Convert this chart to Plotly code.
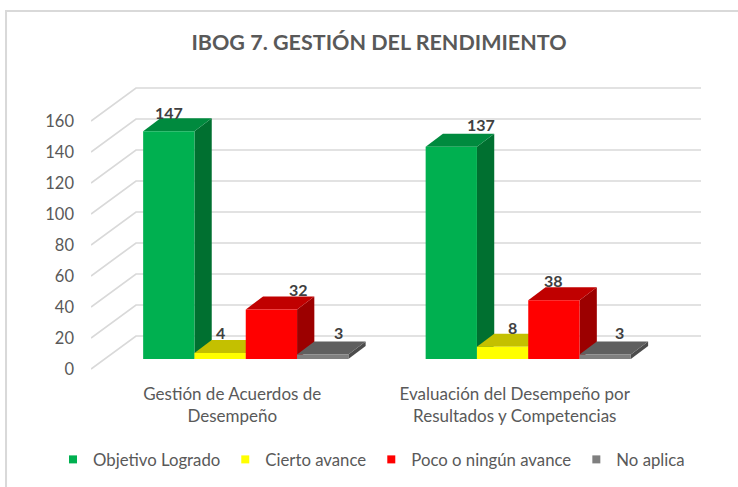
import plotly.graph_objects as go

# ---------- data ----------
categories = ["Gestión de Acuerdos de<br>Desempeño",
              "Evaluación del Desempeño por<br>Resultados y Competencias"]
objetivo_logrado = [147, 137]
cierto_avance = [4, 8]
poco_avance = [32, 38]
no_aplica = [3, 3]
series_names = ["Objetivo Logrado", "Cierto avance", "Poco o ningún avance", "No aplica"]
y_ticks = [0, 20, 40, 60, 80, 100, 120, 140, 160]
title = "IBOG 7. GESTIÓN DEL RENDIMIENTO"
series_values = [objetivo_logrado, cierto_avance, poco_avance, no_aplica]

# ---------- styles ----------
front_colors = ["#00B050", "#FFFF00", "#FF0000", "#7F7F7F"]
top_colors = ["#008A3E", "#C4C000", "#C00000", "#5F5F5F"]
side_colors = ["#007030", "#A8A500", "#9C0000", "#4C4C4C"]
FONT = "Lato"
TEXT = "#595959"
GRID = "#D9D9D9"

# ---------- geometry (pixels -> axis units) ----------
W, H = 738, 487
PX_LEFT, PX_RIGHT = 91, 701
PX_ZERO, PX_TOP = 369, 85
PX_BOTTOM = 372
PX_PER_CAT = 282.5
PX_PER_UNIT = 1.55
WALL_DX = 45 / PX_PER_CAT
WALL_DY = 33 / PX_PER_UNIT
BAR_W = 51.3 / PX_PER_CAT
BAR_DX = 17.3 / PX_PER_CAT
BAR_DY = 13 / PX_PER_UNIT
BAR_PLANE = 0.3
BASE = BAR_PLANE * WALL_DY
X_SHIFT = BAR_PLANE * WALL_DX
X_MAX = (PX_RIGHT - PX_LEFT) / PX_PER_CAT
Y_MIN = -(PX_BOTTOM - PX_ZERO) / PX_PER_UNIT
Y_MAX = (PX_ZERO - PX_TOP) / PX_PER_UNIT
# label nudges, (series, group) -> (dx, dy) px relative to bar front top centre
label_nudge = [[(0, -19), (30, -22)], [(0, -20), (10, -19)],
               [(27, -20), (0, -20)], [(16, -22), (14, -22)]]


def path(points):
    return "M " + " L ".join(f"{x:.4f},{y:.4f}" for x, y in points) + " Z"


def open_path(points):
    return "M " + " L ".join(f"{x:.4f},{y:.4f}" for x, y in points)


shapes = []
for v in y_ticks:
    shapes.append(dict(type="path", xref="x", yref="y", layer="below",
                       path=open_path([(0, v), (WALL_DX, v + WALL_DY), (X_MAX, v + WALL_DY)]),
                       line=dict(color=GRID, width=1.7)))


def bar_center(series, group):
    return group + 0.5 + X_SHIFT + (series - 1.5) * BAR_W


annotations = []
fig = go.Figure()
for g in range(len(categories)):
    for s, vals in enumerate(series_values):
        cx = bar_center(s, g)
        x0, x1 = cx - BAR_W / 2, cx + BAR_W / 2
        y0, y1 = BASE, BASE + vals[g]
        shapes.append(dict(type="path", xref="x", yref="y", layer="below",
                           path=path([(x1, y0), (x1 + BAR_DX, y0 + BAR_DY),
                                      (x1 + BAR_DX, y1 + BAR_DY), (x1, y1)]),
                           fillcolor=side_colors[s], line=dict(width=0)))
        shapes.append(dict(type="path", xref="x", yref="y", layer="below",
                           path=path([(x0, y1), (x1, y1), (x1 + BAR_DX, y1 + BAR_DY),
                                      (x0 + BAR_DX, y1 + BAR_DY)]),
                           fillcolor=top_colors[s], line=dict(width=0)))
        nx, ny = label_nudge[s][g]
        annotations.append(dict(x=cx, y=y1, xref="x", yref="y", text=str(vals[g]),
                                showarrow=False, xshift=nx, yshift=-ny,
                                xanchor="center", yanchor="middle",
                                font=dict(family=FONT, size=16, color="#404040", weight="bold")))

for s, vals in enumerate(series_values):
    fig.add_trace(go.Bar(x=[bar_center(s, g) for g in range(len(categories))],
                         y=vals, base=BASE, width=BAR_W, name=series_names[s],
                         marker=dict(color=front_colors[s], line=dict(width=0)),
                         showlegend=False, legendgroup=series_names[s]))
    fig.add_trace(go.Scatter(x=[None], y=[None], mode="markers", name=series_names[s],
                             legendgroup=series_names[s],
                             marker=dict(symbol="square", size=8, color=front_colors[s])))

# chart frame
plot_w = PX_RIGHT - PX_LEFT
plot_h = PX_BOTTOM - PX_TOP
shapes.append(dict(type="path", xref="paper", yref="paper", layer="below",
                   path=open_path([((6 - PX_LEFT) / plot_w, (PX_BOTTOM - 487) / plot_h),
                                   ((6 - PX_LEFT) / plot_w, (PX_BOTTOM - 11) / plot_h),
                                   ((738 - PX_LEFT) / plot_w, (PX_BOTTOM - 11) / plot_h)]),
                   line=dict(color=GRID, width=2)))

fig.update_layout(
    width=W, height=H, autosize=False,
    margin=dict(l=PX_LEFT, r=W - PX_RIGHT, t=PX_TOP, b=H - PX_BOTTOM, pad=0, autoexpand=False),
    paper_bgcolor="white", plot_bgcolor="white",
    barmode="overlay", shapes=shapes, annotations=annotations,
    title=dict(text=f"<b>{title}</b>", x=379 / W, y=1 - 42 / H, xanchor="center", yanchor="middle",
               font=dict(family=FONT, size=21.5, color=TEXT)),
    xaxis=dict(range=[0, X_MAX], tickvals=[0.5, 1.5], ticktext=categories,
               showgrid=False, zeroline=False, showline=False, ticks="",
               ticklabelstandoff=10, automargin=False,
               tickfont=dict(family=FONT, size=17, color=TEXT)),
    yaxis=dict(range=[Y_MIN, Y_MAX], tickvals=y_ticks, showgrid=False, zeroline=False,
               showline=False, ticks="", ticklabelstandoff=16, automargin=False,
               tickfont=dict(family=FONT, size=16.5, color=TEXT)),
    legend=dict(orientation="h", x=(53 - PX_LEFT) / plot_w, y=(PX_BOTTOM - 442) / plot_h,
                xanchor="left", yanchor="top", bgcolor="rgba(0,0,0,0)",
                font=dict(family=FONT, size=16.75, color=TEXT)),
)
fig.write_html("out.html", config={"displayModeBar": False},
               post_script="document.body.style.margin='0';document.documentElement.style.overflow='hidden';")
